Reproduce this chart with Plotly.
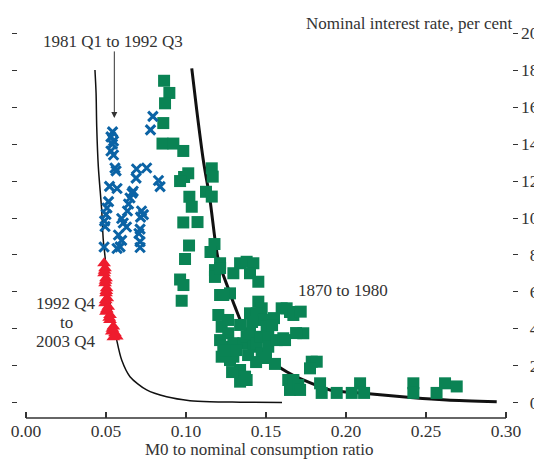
import plotly.graph_objects as go

# ---------------- data ----------------
# 1981 Q1 to 1992 Q3 (blue crosses)
blue_x = [0.0793, 0.0778, 0.0541, 0.0531, 0.0547, 0.0531, 0.0547, 0.0556, 0.0563, 0.0691,
          0.0754, 0.0688, 0.0828, 0.0838, 0.0522, 0.0569, 0.0663, 0.0650, 0.0641, 0.0634,
          0.0516, 0.0506, 0.0500, 0.0491, 0.0494, 0.0722, 0.0734, 0.0716, 0.0598, 0.0608,
          0.0628, 0.0713, 0.0706, 0.0578, 0.0598, 0.0588, 0.0569, 0.0713, 0.0713, 0.0488,
          0.0670, 0.0540]
blue_y = [15.50, 14.77, 14.66, 14.39, 14.17, 13.63, 13.41, 12.71, 12.55, 12.65,
          12.71, 12.16, 12.03, 11.70, 11.71, 11.60, 11.35, 11.08, 10.76, 10.38,
          10.89, 10.54, 10.19, 9.84, 9.54, 10.38, 10.18, 10.05, 9.97, 9.73,
          9.51, 9.40, 9.16, 9.08, 8.79, 8.44, 8.35, 8.72, 8.40, 8.43,
          11.45, 14.0]

# 1992 Q4 to 2003 Q4 (red triangles)
red_x = [0.0488, 0.0494, 0.0488, 0.0500, 0.0494, 0.0504, 0.0500, 0.0508, 0.0494, 0.0514,
         0.0500, 0.0525, 0.0525, 0.0546, 0.0536, 0.0556, 0.0567, 0.0546, 0.0491, 0.0497,
         0.0502, 0.0498, 0.0505, 0.0520, 0.0540]
red_y = [7.55, 7.28, 7.01, 6.74, 6.47, 6.20, 5.93, 5.66, 5.39, 5.20,
         4.93, 4.75, 4.48, 4.12, 3.85, 3.76, 3.58, 3.55, 7.15, 6.60,
         6.05, 5.55, 5.05, 4.60, 4.00]

# 1870 to 1980 (green squares)
green_x = [0.0863, 0.0896, 0.0869, 0.0858, 0.0853, 0.0921, 0.0983, 0.1014, 0.0988, 0.0963,
           0.1161, 0.1167, 0.1125, 0.1161, 0.1021, 0.1036, 0.0983, 0.1072, 0.1019, 0.1178,
           0.1153, 0.0994, 0.0963, 0.0984, 0.0973, 0.1181, 0.1181, 0.1213, 0.1296, 0.1338,
           0.1379, 0.1421, 0.1400, 0.1452, 0.1213, 0.1275, 0.1452, 0.1473, 0.1400, 0.1442,
           0.1483, 0.1202, 0.1223, 0.1213, 0.1233, 0.1223, 0.1264, 0.1296, 0.1358, 0.1379,
           0.1400, 0.1421, 0.1442, 0.1463, 0.1473, 0.1504, 0.1514, 0.1514, 0.1567, 0.1608,
           0.1296, 0.1275, 0.1338, 0.1369, 0.1338, 0.1379, 0.1556, 0.1598, 0.1629, 0.1650,
           0.1671, 0.1717, 0.1733, 0.1619, 0.1639, 0.1650, 0.1671, 0.1702, 0.1713, 0.1786,
           0.1817, 0.1775, 0.1838, 0.1848, 0.1942, 0.2036, 0.2088, 0.2113, 0.2421, 0.2421,
           0.2566, 0.2619, 0.2692, 0.1233, 0.1213, 0.1250, 0.1313, 0.1388, 0.1438, 0.1500,
           0.1263, 0.1338, 0.1413, 0.1550, 0.1688, 0.1288, 0.1538]
green_y = [17.43, 16.77, 16.21, 15.14, 14.03, 14.03, 13.63, 12.42, 12.22, 12.00,
           12.69, 12.24, 11.42, 11.16, 11.15, 10.61, 9.76, 9.78, 8.51, 8.59,
           8.16, 7.78, 6.67, 6.37, 5.52, 7.18, 6.81, 7.55, 7.01, 7.55,
           7.63, 7.55, 7.01, 6.55, 5.83, 5.92, 5.47, 5.11, 4.84, 4.84,
           4.48, 4.75, 4.11, 3.39, 3.03, 2.49, 3.76, 3.22, 3.22, 3.57,
           3.76, 3.03, 3.22, 3.57, 2.67, 4.11, 3.57, 3.03, 3.39, 3.49,
           2.49, 2.31, 1.77, 1.41, 1.14, 1.23, 2.10, 5.11, 5.11, 4.91,
           4.75, 4.93, 3.76, 3.39, 1.23, 0.69, 1.23, 0.96, 0.69, 2.22,
           2.22, 1.86, 1.05, 0.53, 0.53, 0.53, 1.05, 0.53, 1.05, 0.53,
           0.53, 1.05, 0.88, 5.83, 7.29, 2.85, 2.85, 2.58, 2.20, 2.42,
           4.48, 4.21, 4.37, 4.58, 3.77, 1.66, 4.20]

# Fitted curves
thin_x = [0.0431, 0.0438, 0.0442, 0.0452, 0.0473, 0.0483, 0.0494, 0.0513, 0.0536, 0.0567,
          0.0598, 0.0650, 0.0754, 0.0879, 0.1025, 0.1150, 0.1338, 0.1600]
thin_y = [18.01, 16.75, 14.94, 12.78, 10.43, 8.81, 7.90, 6.10, 4.84, 3.39,
          2.31, 1.41, 0.69, 0.32, 0.11, 0.05, 0.03, 0.01]

thick_x = [0.1036, 0.1067, 0.1108, 0.1150, 0.1202, 0.1264, 0.1306, 0.1369, 0.1525, 0.1629,
           0.1733, 0.1900, 0.2108, 0.2421, 0.2629, 0.2942]
thick_y = [18.10, 15.85, 13.14, 10.98, 7.73, 6.19, 5.20, 3.94, 2.31, 1.68,
           1.23, 0.69, 0.51, 0.27, 0.15, 0.05]

x_ticks = [0.00, 0.05, 0.10, 0.15, 0.20, 0.25, 0.30]
x_tick_labels = ["0.00", "0.05", "0.10", "0.15", "0.20", "0.25", "0.30"]
y_ticks = [0, 2, 4, 6, 8, 10, 12, 14, 16, 18, 20]
y_tick_labels = ["\u20070", "\u20072", "\u20074", "\u20076", "\u20078",
                 "10", "12", "14", "16", "18", "20"]

# ---------------- styling ----------------
FONT = "Liberation Serif"
TXT = "#333333"
GREEN = "#0a8354"
BLUE = "#0b63a5"
RED = "#ee1c2e"

fig = go.Figure()

fig.add_trace(go.Scatter(x=thin_x, y=thin_y, mode="lines",
                         line=dict(color="#111111", width=1.5, shape="spline", smoothing=0.8),
                         hoverinfo="skip", showlegend=False))
fig.add_trace(go.Scatter(x=thick_x, y=thick_y, mode="lines",
                         line=dict(color="#111111", width=3, shape="spline", smoothing=0.8),
                         hoverinfo="skip", showlegend=False))
fig.add_trace(go.Scatter(x=green_x, y=green_y, mode="markers", name="1870 to 1980",
                         marker=dict(symbol="square", size=12, color=GREEN),
                         showlegend=False))
fig.add_trace(go.Scatter(x=blue_x, y=blue_y, mode="markers", name="1981 Q1 to 1992 Q3",
                         marker=dict(symbol="x-thin", size=9.5,
                                     line=dict(color=BLUE, width=3)),
                         showlegend=False))
fig.add_trace(go.Scatter(x=red_x, y=red_y, mode="markers", name="1992 Q4 to 2003 Q4",
                         marker=dict(symbol="triangle-up", size=12, color=RED),
                         showlegend=False))

# The page body adds an 8px offset, so the figure is 8px smaller and shifted.
fig.update_layout(
    width=534, height=451,
    margin=dict(l=4, r=24, t=20, b=41),
    paper_bgcolor="white", plot_bgcolor="white",
    font=dict(family=FONT, size=17, color=TXT),
    xaxis=dict(range=[-0.00875, 0.3075], tickvals=x_ticks, ticktext=x_tick_labels,
               ticks="inside", ticklen=6, tickwidth=1.5, tickcolor=TXT,
               showline=False, showgrid=False, zeroline=False, automargin=False,
               tickfont=dict(family=FONT, size=17.5, color=TXT)),
    yaxis=dict(range=[-0.828, 20.287], side="right", tickvals=y_ticks, ticktext=y_tick_labels,
               ticks="inside", ticklen=5, tickwidth=1.2, tickcolor=TXT, mirror="ticks",
               ticklabelstandoff=2,
               showline=False, showgrid=False, zeroline=False, automargin=False,
               tickfont=dict(family=FONT, size=17.5, color=TXT)),
)

# x axis baseline from 0.00 to 0.30
fig.add_shape(type="line", xref="x", yref="paper", x0=0, x1=0.30, y0=0, y1=0,
              line=dict(color=TXT, width=1.5))

ann = dict(showarrow=False, font=dict(family=FONT, size=17, color=TXT))
fig.add_annotation(x=0.0541, y=19.55, xref="x", yref="y", text="1981 Q1 to 1992 Q3", **ann)
fig.add_annotation(x=0.0552, y=15.41, ax=0.0552, ay=19.10, xref="x", yref="y",
                   axref="x", ayref="y", text="", showarrow=True, arrowhead=2,
                   arrowsize=1.2, arrowwidth=1, arrowcolor=TXT)
fig.add_annotation(x=0.025, y=5.38, xref="x", yref="y", text="1992 Q4", **ann)
fig.add_annotation(x=0.025, y=4.32, xref="x", yref="y", text="to", **ann)
fig.add_annotation(x=0.025, y=3.30, xref="x", yref="y", text="2003 Q4", **ann)
fig.add_annotation(x=0.1984, y=6.10, xref="x", yref="y", text="1870 to 1980", **ann)
fig.add_annotation(x=0.994, y=1.0128, xref="paper", yref="paper", xanchor="right",
                   yanchor="middle", text="Nominal interest rate, per cent", **ann)
fig.add_annotation(x=0.146, y=-0.082, xref="x", yref="paper", yanchor="middle",
                   text="M0 to nominal consumption ratio", **ann)

fig.write_html("out.html")
